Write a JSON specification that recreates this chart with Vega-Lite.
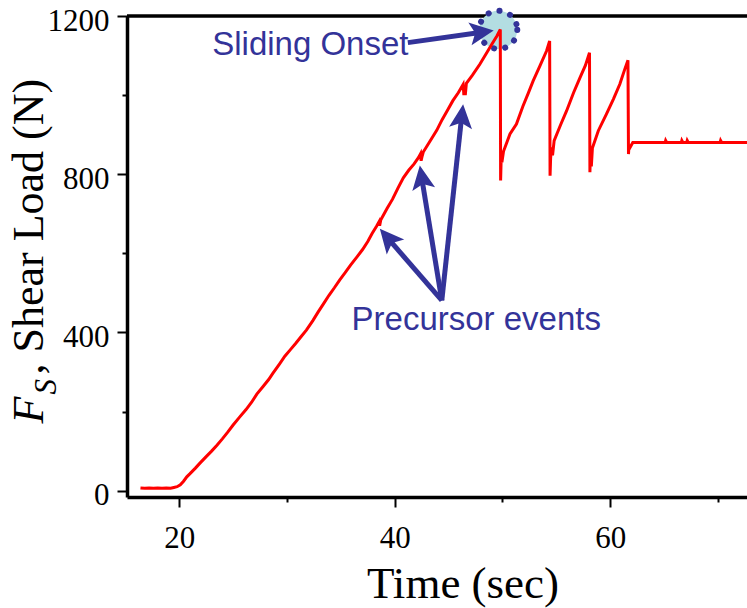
{
  "$schema": "https://vega.github.io/schema/vega-lite/v6.json",
  "width": 620,
  "height": 481,
  "autosize": "none",
  "padding": {"left": 127, "top": 16, "right": 0, "bottom": 111},
  "background": "white",
  "config": {"view": {"stroke": null}, "axis": {"grid": false}},
  "datasets": {
    "curve": [
      {"t":16.4,"v":7},{"t":16.8,"v":6},{"t":17.2,"v":7},{"t":17.6,"v":6},{"t":18.0,"v":7},{"t":18.4,"v":6},{"t":18.8,"v":7},{"t":19.2,"v":6},{"t":19.5,"v":8},{"t":19.8,"v":10},
      {"t":20.1,"v":15},{"t":20.4,"v":24},{"t":20.7,"v":35},{"t":21.0,"v":43},{"t":21.5,"v":57},{"t":21.9,"v":69},{"t":22.5,"v":86},{"t":23.0,"v":100},{"t":23.5,"v":115},{"t":24.0,"v":131},
      {"t":24.5,"v":148},{"t":25.0,"v":166},{"t":25.6,"v":186},{"t":26.2,"v":205},{"t":26.7,"v":223},{"t":27.2,"v":244},{"t":27.8,"v":264},{"t":28.3,"v":281},{"t":28.7,"v":297},{"t":29.3,"v":320},
      {"t":29.8,"v":340},{"t":30.3,"v":356},{"t":30.8,"v":372},{"t":31.3,"v":389},{"t":31.8,"v":406},{"t":32.4,"v":430},{"t":32.9,"v":452},{"t":33.4,"v":473},{"t":33.9,"v":494},{"t":34.4,"v":513},
      {"t":34.9,"v":533},{"t":35.4,"v":551},{"t":35.9,"v":570},{"t":36.5,"v":591},{"t":37.0,"v":609},{"t":37.5,"v":630},{"t":37.9,"v":650},{"t":38.3,"v":668},{"t":38.55,"v":680},{"t":38.6,"v":670},
      {"t":38.7,"v":684},{"t":39.3,"v":714},{"t":39.8,"v":737},{"t":40.3,"v":765},{"t":40.8,"v":791},{"t":41.3,"v":810},{"t":41.8,"v":826},{"t":42.2,"v":842},{"t":42.4,"v":852},{"t":42.45,"v":834},
      {"t":42.55,"v":846},{"t":42.65,"v":856},{"t":43.2,"v":880},{"t":43.9,"v":911},{"t":44.4,"v":938},{"t":44.9,"v":962},{"t":45.4,"v":986},{"t":45.9,"v":1006},{"t":46.35,"v":1027},{"t":46.42,"v":1000},
      {"t":46.5,"v":1018},{"t":46.55,"v":1000},{"t":46.65,"v":1030},{"t":47.2,"v":1050},{"t":47.9,"v":1078},{"t":48.5,"v":1105},{"t":49.0,"v":1128},{"t":49.5,"v":1150},{"t":49.8,"v":1166},{"t":49.83,"v":784},
      {"t":49.88,"v":838},{"t":49.95,"v":830},{"t":50.1,"v":858},{"t":50.7,"v":902},{"t":51.3,"v":927},{"t":51.9,"v":972},{"t":52.4,"v":1005},{"t":52.85,"v":1036},{"t":53.5,"v":1075},{"t":54.1,"v":1112},
      {"t":54.38,"v":1137},{"t":54.42,"v":796},{"t":54.47,"v":840},{"t":54.55,"v":868},{"t":54.65,"v":848},{"t":54.8,"v":885},{"t":55.4,"v":925},{"t":55.95,"v":960},{"t":56.6,"v":1006},{"t":57.2,"v":1044},
      {"t":57.7,"v":1075},{"t":58.08,"v":1107},{"t":58.12,"v":805},{"t":58.17,"v":860},{"t":58.25,"v":820},{"t":58.35,"v":866},{"t":58.9,"v":910},{"t":59.65,"v":952},{"t":60.3,"v":990},{"t":60.9,"v":1028},
      {"t":61.35,"v":1065},{"t":61.65,"v":1088},{"t":61.7,"v":851},{"t":61.75,"v":874},{"t":61.85,"v":868},{"t":62.1,"v":880},{"t":65.1,"v":880},{"t":65.15,"v":885},{"t":65.25,"v":880},{"t":66.6,"v":880},
      {"t":66.65,"v":885},{"t":66.75,"v":880},{"t":67.1,"v":880},{"t":67.15,"v":885},{"t":67.25,"v":880},{"t":70.2,"v":880},{"t":70.25,"v":885},{"t":70.35,"v":880},{"t":72.7,"v":880}
    ],
    "arrows": [
      {"id":"onset","t":41.22,"v":1132.7,"t2":48.09,"v2":1159,"tipT":49.19,"tipV":1163.5},
      {"id":"p1","t":44.37,"v":481,"t2":39.34,"v2":639,"tipT":38.62,"tipV":662},
      {"id":"p2","t":44.37,"v":481,"t2":42.5,"v2":792,"tipT":42.33,"tipV":822},
      {"id":"p3","t":44.37,"v":481,"t2":46.22,"v2":947,"tipT":46.35,"tipV":977}
    ],
    "labels": [
      {"text":"Sliding Onset","t":32.17,"v":1101},
      {"text":"Precursor events","t":47.57,"v":405}
    ],
    "onset": [{"t":49.61,"v":1165}],
    "frame": [{"v":1200}]
  },
  "layer": [
    {
      "data": {"name": "frame"},
      "mark": {"type": "rule", "color": "black", "strokeWidth": 3.5},
      "encoding": {
        "y": {"field": "v", "type": "quantitative",
          "scale": {"domain": [-16, 1200], "zero": false, "nice": false},
          "axis": {"orient": "left", "title": "F", "titleFont": "Liberation Serif", "titleFontSize": 44, "titleFontStyle": "italic", "titleFontWeight": "normal", "titleColor": "black", "titleX": -85, "titleY": 407, "titleAngle": 270, "titleAlign": "left", "titleBaseline": "alphabetic", "domain": false, "ticks": false, "labels": false}}
      }
    },
    {
      "data": {"name": "onset"},
      "mark": {"type": "point", "shape": "circle", "filled": true, "fill": "#b3dde2", "stroke": "#333399", "strokeWidth": 6, "strokeDash": [0.1, 11.2], "strokeCap": "round", "size": 1450, "opacity": 1, "fillOpacity": 1, "strokeOpacity": 1},
      "encoding": {
        "x": {"field": "t", "type": "quantitative", "scale": {"domain": [15.15, 72.7], "zero": false, "nice": false}},
        "y": {"field": "v", "type": "quantitative",
          "scale": {"domain": [-16, 1200], "zero": false, "nice": false},
          "axis": {"orient": "left", "title": "S", "titleFont": "Liberation Serif", "titleFontSize": 31, "titleFontStyle": "italic", "titleFontWeight": "normal", "titleColor": "black", "titleX": -72, "titleY": 378, "titleAngle": 270, "titleAlign": "left", "titleBaseline": "alphabetic", "domain": false, "ticks": false, "labels": false}}
      }
    },
    {
      "data": {"name": "curve"},
      "mark": {"type": "line", "color": "#ff0000", "strokeWidth": 3},
      "encoding": {
        "x": {"field": "t", "type": "quantitative",
          "scale": {"domain": [15.15, 72.7], "zero": false, "nice": false},
          "axis": {"title": "Time (sec)", "values": [20, 30, 40, 50, 60, 70], "format": "d",
            "labelExpr": "datum.value % 20 === 0 ? datum.label : ''",
            "tickSize": {"condition": {"test": "datum.value % 20 === 0", "value": 10}, "value": 5},
            "tickWidth": 2, "tickColor": "black", "domainColor": "black", "domainWidth": 3.5,
            "labelFont": "Liberation Serif", "labelFontSize": 31, "labelColor": "black", "labelBaseline": "alphabetic", "labelPadding": 40,
            "labelFlush": false, "labelOverlap": false, "labelBound": false,
            "titleFont": "Liberation Serif", "titleFontSize": 45, "titleFontWeight": "normal", "titleColor": "black",
            "titleX": 335.5, "titleY": 100, "titleAlign": "center", "titleBaseline": "alphabetic", "titleAngle": 0}},
        "y": {"field": "v", "type": "quantitative",
          "scale": {"domain": [-16, 1200], "zero": false, "nice": false},
          "axis": {"orient": "left", "title": ", Shear Load (N)", "values": [0, 200, 400, 600, 800, 1000, 1200], "format": "d",
            "labelExpr": "datum.value % 400 === 0 ? datum.label : ''",
            "tickSize": {"condition": {"test": "datum.value % 400 === 0", "value": 10}, "value": 5},
            "tickWidth": 2, "tickColor": "black", "domainColor": "black", "domainWidth": 3.5,
            "labelFont": "Liberation Serif", "labelFontSize": 31, "labelColor": "black", "labelBaseline": "alphabetic", "labelOffset": 14, "labelPadding": 8, "labelAlign": "right",
            "labelFlush": false, "labelOverlap": false, "labelBound": false,
            "titleFont": "Liberation Serif", "titleFontSize": 44, "titleFontWeight": "normal", "titleColor": "black",
            "titleX": -85, "titleY": 358, "titleAngle": 270, "titleAlign": "left", "titleBaseline": "alphabetic"}}
      }
    },
    {
      "data": {"name": "arrows"},
      "mark": {"type": "rule", "color": "#333399", "strokeWidth": 5},
      "encoding": {
        "x": {"field": "t", "type": "quantitative", "scale": {"domain": [15.15, 72.7], "zero": false, "nice": false}},
        "y": {"field": "v", "type": "quantitative", "scale": {"domain": [-16, 1200], "zero": false, "nice": false}, "axis": null},
        "x2": {"field": "t2"},
        "y2": {"field": "v2"}
      }
    },
    {
      "data": {"name": "arrows"},
      "transform": [{"filter": "datum.id === 'onset'"}],
      "mark": {"type": "point", "shape": "M0,0 L0.48,1 L0,0.78 L-0.48,1 Z", "filled": true, "fill": "#333399", "strokeWidth": 0, "size": 2304, "opacity": 1, "angle": 81.9},
      "encoding": {
        "x": {"field": "tipT", "type": "quantitative", "scale": {"domain": [15.15, 72.7], "zero": false, "nice": false}},
        "y": {"field": "tipV", "type": "quantitative", "scale": {"domain": [-16, 1200], "zero": false, "nice": false}, "axis": null}
      }
    },
    {
      "data": {"name": "arrows"},
      "transform": [{"filter": "datum.id === 'p1'"}],
      "mark": {"type": "point", "shape": "M0,0 L0.48,1 L0,0.78 L-0.48,1 Z", "filled": true, "fill": "#333399", "strokeWidth": 0, "size": 2304, "opacity": 1, "angle": 319.3},
      "encoding": {
        "x": {"field": "tipT", "type": "quantitative", "scale": {"domain": [15.15, 72.7], "zero": false, "nice": false}},
        "y": {"field": "tipV", "type": "quantitative", "scale": {"domain": [-16, 1200], "zero": false, "nice": false}, "axis": null}
      }
    },
    {
      "data": {"name": "arrows"},
      "transform": [{"filter": "datum.id === 'p2'"}],
      "mark": {"type": "point", "shape": "M0,0 L0.48,1 L0,0.78 L-0.48,1 Z", "filled": true, "fill": "#333399", "strokeWidth": 0, "size": 2304, "opacity": 1, "angle": 350.7},
      "encoding": {
        "x": {"field": "tipT", "type": "quantitative", "scale": {"domain": [15.15, 72.7], "zero": false, "nice": false}},
        "y": {"field": "tipV", "type": "quantitative", "scale": {"domain": [-16, 1200], "zero": false, "nice": false}, "axis": null}
      }
    },
    {
      "data": {"name": "arrows"},
      "transform": [{"filter": "datum.id === 'p3'"}],
      "mark": {"type": "point", "shape": "M0,0 L0.48,1 L0,0.78 L-0.48,1 Z", "filled": true, "fill": "#333399", "strokeWidth": 0, "size": 2304, "opacity": 1, "angle": 6.1},
      "encoding": {
        "x": {"field": "tipT", "type": "quantitative", "scale": {"domain": [15.15, 72.7], "zero": false, "nice": false}},
        "y": {"field": "tipV", "type": "quantitative", "scale": {"domain": [-16, 1200], "zero": false, "nice": false}, "axis": null}
      }
    },
    {
      "data": {"name": "labels"},
      "mark": {"type": "text", "font": "Liberation Sans", "fontSize": 33, "color": "#333399", "align": "center", "baseline": "alphabetic"},
      "encoding": {
        "x": {"field": "t", "type": "quantitative", "scale": {"domain": [15.15, 72.7], "zero": false, "nice": false}},
        "y": {"field": "v", "type": "quantitative", "scale": {"domain": [-16, 1200], "zero": false, "nice": false}, "axis": null},
        "text": {"field": "text"}
      }
    }
  ],
  "resolve": {"axis": {"y": "independent"}}
}
